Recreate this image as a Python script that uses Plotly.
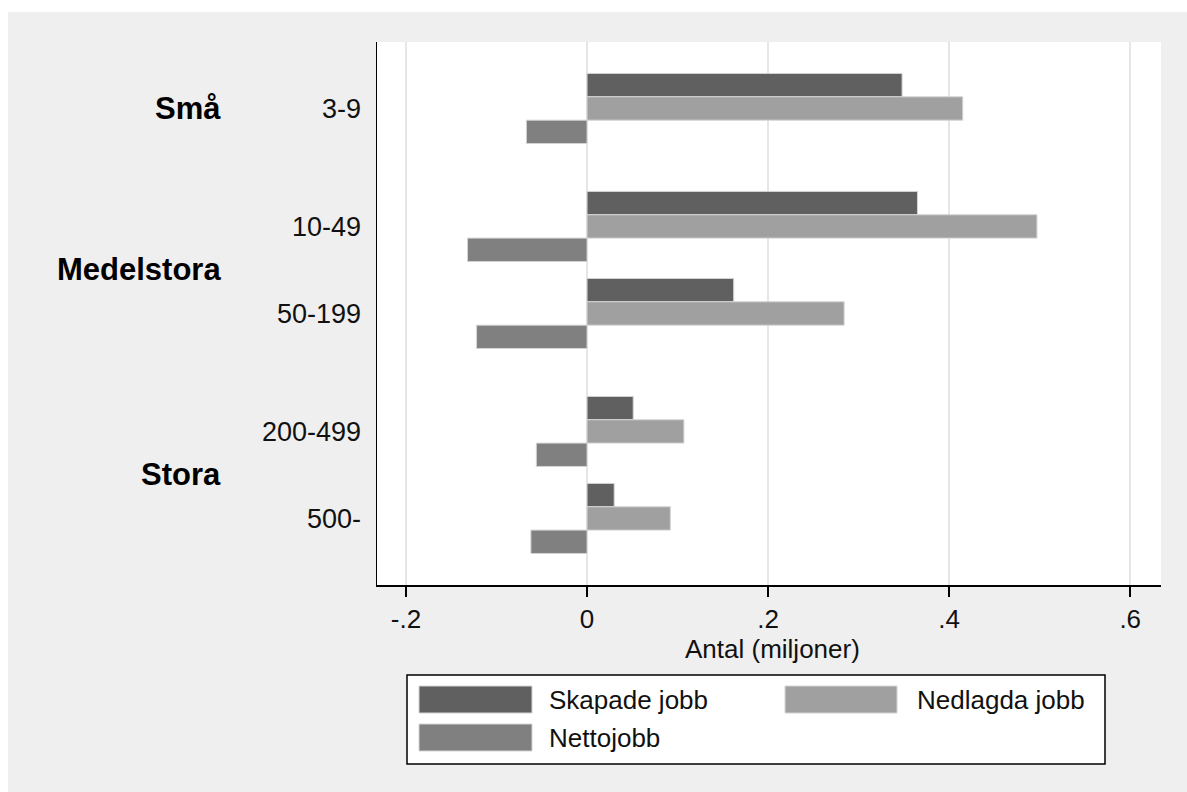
import plotly.graph_objects as go

# ---- data ----
groups = ["Små", "Medelstora", "Stora"]
group_sizes = [1, 2, 2]
categories = ["3-9", "10-49", "50-199", "200-499", "500-"]
skapade = [0.348, 0.365, 0.162, 0.051, 0.030]
nedlagda = [0.415, 0.497, 0.284, 0.107, 0.092]
netto = [-0.067, -0.132, -0.122, -0.056, -0.062]
series_names = ["Skapade jobb", "Nedlagda jobb", "Nettojobb"]
series_colors = ["#606060", "#a0a0a0", "#808080"]
x_ticks = [-0.2, 0, 0.2, 0.4, 0.6]
x_ticktext = ["-.2", "0", ".2", ".4", ".6"]
x_title = "Antal (miljoner)"

# ---- layout helpers (page margin removed by post_script) ----
W, H = 1187, 792
L, R, T, B = 377, 26, 42, 207
PW, PH = W - L - R, H - T - B
GROUP_GAP = 0.356

def px2x(px):
    return (px - L) / PW

def py2y(py):
    return (H - B - py) / PH

# category positions (within-group step 1, extra gap between groups)
positions = []
group_centers = []
pos = 0.0
for gi, n in enumerate(group_sizes):
    members = []
    for k in range(n):
        positions.append(pos)
        members.append(pos)
        pos += 1.0
    group_centers.append(sum(members) / len(members))
    pos += GROUP_GAP

FONT = "Arial, Liberation Sans, Helvetica, sans-serif"
TXT = "#111111"

fig = go.Figure()
for name, vals, col in zip(series_names, [skapade, nedlagda, netto], series_colors):
    fig.add_trace(go.Bar(
        y=positions, x=vals, name=name, orientation="h",
        marker=dict(color=col, line=dict(color="#d4d4d4", width=1)),
        showlegend=False, hoverinfo="skip",
    ))

fig.update_layout(
    width=W, height=H,
    margin=dict(l=L, r=R, t=T, b=B),
    paper_bgcolor="#efefef",
    plot_bgcolor="#ffffff",
    barmode="group", bargap=0.195, bargroupgap=0,
    font=dict(family=FONT, size=27, color=TXT),
    xaxis=dict(
        range=[-0.232, 0.634],
        tickvals=x_ticks, ticktext=x_ticktext,
        showgrid=True, gridcolor="#e6e6e6", gridwidth=2,
        zeroline=False,
        showline=True, linecolor="#000000", linewidth=1.5,
        ticks="outside", ticklen=10, tickcolor="#000000", tickwidth=1.5,
        tickfont=dict(size=26, color=TXT),
    ),
    yaxis=dict(
        range=[5.477, -0.764],
        tickvals=positions, ticktext=categories,
        showgrid=False, zeroline=False,
        showline=True, linecolor="#000000", linewidth=1.5,
        ticks="", ticklabelstandoff=9,
        tickfont=dict(size=27, color=TXT),
    ),
)

# white strips at the top and left edges, as in the reference
fig.add_shape(type="rect", xref="paper", yref="paper",
              x0=px2x(-5), x1=px2x(1200), y0=py2y(12), y1=py2y(-5),
              line=dict(width=0), fillcolor="#ffffff", layer="above")
fig.add_shape(type="rect", xref="paper", yref="paper",
              x0=px2x(-5), x1=px2x(8), y0=py2y(800), y1=py2y(-5),
              line=dict(width=0), fillcolor="#ffffff", layer="above")

# x-axis title
fig.add_annotation(x=px2x(772), y=py2y(649), xref="paper", yref="paper",
                   text=x_title, showarrow=False, xanchor="center", yanchor="middle",
                   font=dict(size=26, color=TXT, family=FONT))

# group labels
for g, c in zip(groups, group_centers):
    fig.add_annotation(
        x=px2x(223), y=c, xref="paper", yref="y",
        text=f"<b>{g}</b>", showarrow=False, xanchor="right", yanchor="middle",
        font=dict(size=31, color="#000000", family=FONT),
    )

# legend (drawn manually for large swatches)
fig.add_shape(type="rect", xref="paper", yref="paper",
              x0=px2x(407), x1=px2x(1105), y0=py2y(675), y1=py2y(764),
              line=dict(color="#000000", width=1.5), fillcolor="#ffffff", layer="above")
slots = [(419, 532, 547, 686, 713), (785, 897, 915, 686, 713), (419, 532, 547, 724, 751)]
for (sx0, sx1, tx, sy0, sy1), name, col in zip(slots, series_names, series_colors):
    fig.add_shape(type="rect", xref="paper", yref="paper",
                  x0=px2x(sx0), x1=px2x(sx1), y0=py2y(sy0), y1=py2y(sy1),
                  line=dict(color="#d4d4d4", width=1), fillcolor=col, layer="above")
    fig.add_annotation(x=px2x(tx), y=py2y((sy0 + sy1) / 2), xref="paper", yref="paper",
                       text=name, showarrow=False, xanchor="left", yanchor="middle",
                       font=dict(size=26, color=TXT, family=FONT))

fig.write_html(
    "out.html",
    config={"displayModeBar": False, "staticPlot": True},
    post_script="document.body.style.margin='0';document.body.style.overflow='hidden';"
                "document.documentElement.style.overflow='hidden';",
)
